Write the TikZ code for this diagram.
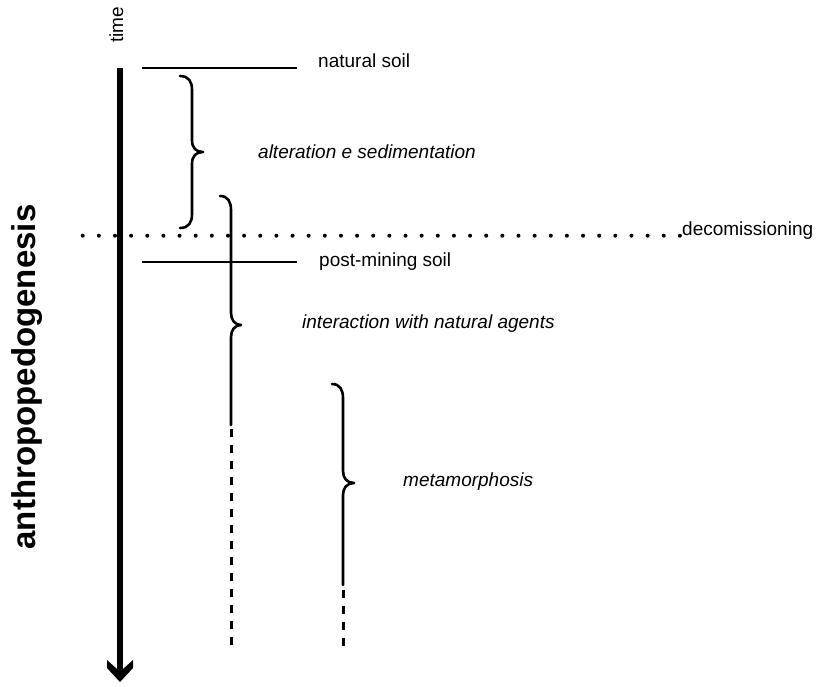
\documentclass[tikz,border=0pt]{standalone}
\usepackage{fontspec}
\setmainfont{Liberation Sans}
\begin{document}
\begin{tikzpicture}[x=1pt,y=-1pt,
  lbl/.style={inner sep=0pt,anchor=base west,font=\fontsize{19}{22}\selectfont},
  ilbl/.style={lbl,font=\fontsize{19}{22}\selectfont\itshape},
  soilline/.style={line width=1.8pt},
  bracepath/.style={line width=2.6pt,line cap=round,line join=round},
  dashpart/.style={line width=3pt,dash pattern=on 8pt off 8pt}]
\useasboundingbox (0,0) rectangle (816,686);
% title
\node[rotate=90,anchor=base,inner sep=0pt,font=\fontsize{33}{38}\selectfont\bfseries] (title) at (35,377) {anthropopedogenesis};
\node[rotate=90,anchor=base,inner sep=0pt,font=\fontsize{19}{22}\selectfont] (time) at (123,25) {time};
% main arrow
\coordinate (ta) at (120,68);
\coordinate (tb) at (120,672);
\draw[line width=6.5pt] (ta) -- (tb);
\fill (107,660) -- (117,669) -- (123,669) -- (133,660) -- (133,668) -- (120,682) -- (107,668) -- cycle;
% dotted line
\foreach \i in {0,...,37} \fill (82.7+16.14*\i,235.7) circle (2pt);
\node[lbl] (dec) at (682,235) {decomissioning};
% soil lines
\coordinate (ns1) at (142,68); \coordinate (ns2) at (297,68);
\draw[soilline] (ns1) -- (ns2);
\node[lbl] (ns) at (318,67) {natural soil};
\coordinate (pm1) at (142,262); \coordinate (pm2) at (297,262);
\draw[soilline] (pm1) -- (pm2);
\node[lbl] (pm) at (319,266) {post-mining soil};
% brace 1
\draw[bracepath] (180,76) .. controls (189,76) and (192,82) .. (192,90) -- (192,140)
  .. controls (192,148) and (196,152) .. (203,152)
  .. controls (196,152) and (192,156) .. (192,164) -- (192,214)
  .. controls (192,222) and (189,228) .. (180,228);
\node[ilbl] (alt) at (258,158) {alteration e sedimentation};
% brace 2
\draw[bracepath] (220,196) .. controls (228,196) and (231,202) .. (231,210) -- (231,313)
  .. controls (231,320) and (235,325) .. (241,325)
  .. controls (235,325) and (231,330) .. (231,337) -- (231,425);
\draw[dashpart] (231,429) -- (231,650);
\node[ilbl] (inter) at (302,328) {interaction with natural agents};
% brace 3
\draw[bracepath] (332,384) .. controls (340,384) and (343,390) .. (343,398) -- (343,471)
  .. controls (343,478) and (347,483) .. (354,483)
  .. controls (347,483) and (343,488) .. (343,495) -- (343,585);
\draw[dashpart] (343,590) -- (343,650);
\node[ilbl] (meta) at (403,486) {metamorphosis};
\end{tikzpicture}
\end{document}
